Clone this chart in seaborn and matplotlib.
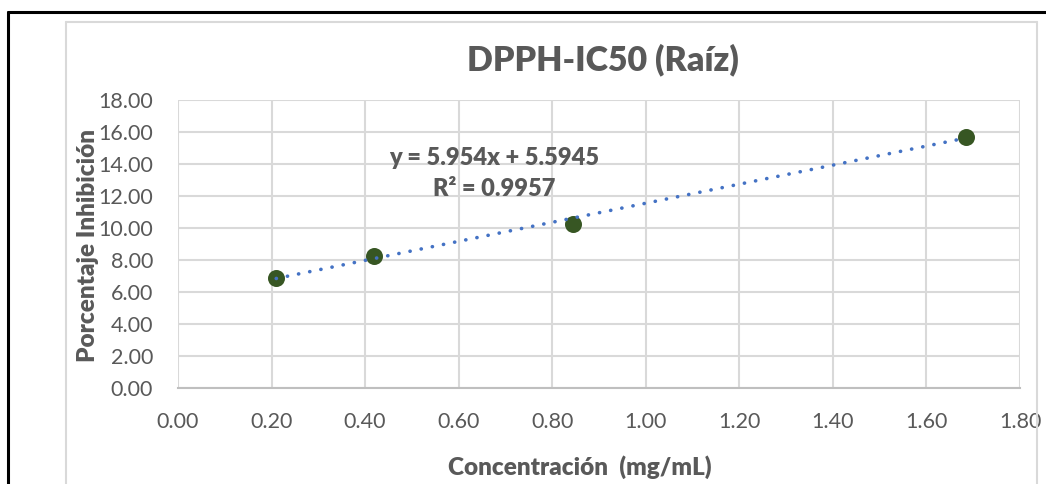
import numpy as np
import pandas as pd
import seaborn as sns
import matplotlib
matplotlib.use("Agg")
import matplotlib.pyplot as plt
from matplotlib.lines import Line2D

# Data
concentracion = [0.21, 0.42, 0.845, 1.685]
inhibicion = [6.87, 8.25, 10.27, 15.68]
slope = 5.954
intercept = 5.5945
r2 = 0.9957
title = "DPPH-IC50 (Raíz)"
xlabel = "Concentración  (mg/mL)"
ylabel = "Porcentaje Inhibición"
xticks = [0.0, 0.2, 0.4, 0.6, 0.8, 1.0, 1.2, 1.4, 1.6, 1.8]
yticks = [0, 2, 4, 6, 8, 10, 12, 14, 16, 18]

sns.set_theme(style="white")
plt.rcParams['font.family'] = ['Lato', 'DejaVu Sans']

W, H = 1046, 484
fig = plt.figure(figsize=(W / 100, H / 100), dpi=100)
ax = fig.add_axes([178 / W, 1 - 388 / H, (1020 - 178) / W, (388 - 100) / H])

df = pd.DataFrame({"x": concentracion, "y": inhibicion})
xt = np.array([concentracion[0], concentracion[-1]])
trend = pd.DataFrame({"x": xt, "y": slope * xt + intercept})

sns.lineplot(data=trend, x="x", y="y", ax=ax, color="#4472C4", lw=2.6,
             linestyle=(0, (0.05, 3.1)), dash_capstyle="round", zorder=4)
sns.scatterplot(data=df, x="x", y="y", ax=ax, color="#375623", s=150,
                edgecolor="#375623", linewidth=0, zorder=3)

ax.set_xlim(0, 1.8)
ax.set_ylim(0, 18)
ax.set_xticks(xticks)
ax.set_xticklabels([f"{v:.2f}" for v in xticks])
ax.set_yticks(yticks)
ax.set_yticklabels([f"{v:.2f}" for v in yticks])
ax.grid(True, color="#D9D9D9", lw=1.5)
ax.set_axisbelow(True)
for s in ["top", "right", "left"]:
    ax.spines[s].set_visible(False)
ax.spines["bottom"].set_color("#BFBFBF")
ax.spines["bottom"].set_linewidth(1.5)
ax.tick_params(axis="both", length=0, labelsize=15.5, labelcolor="#595959")
ax.tick_params(axis="x", pad=17)
ax.tick_params(axis="y", pad=18)
ax.set_xlabel("")
ax.set_ylabel("")

bold = dict(fontweight="heavy", color="#595959")
fig.text(603 / W, 1 - 60 / H, title, ha="center", va="center", fontsize=24.5, **bold)
fig.text(88 / W, 1 - 245 / H, ylabel, ha="center", va="center", rotation=90,
         fontsize=17.5, **bold)
fig.text(580 / W, 1 - 467 / H, xlabel, ha="center", va="center", fontsize=17.5, **bold)

fig.text(494 / W, 1 - 158 / H, f"y = {slope}x + {intercept}", ha="center", va="center",
         fontsize=17, **bold)
fig.text(494 / W, 1 - 189 / H, f"R² = {r2}", ha="center", va="center",
         fontsize=17, **bold)

# inner chart-area border (gray)
fig.add_artist(Line2D([66 / W, 66 / W], [0, 1 - 22 / H], transform=fig.transFigure,
                      color="#D9D9D9", lw=1.5))
fig.add_artist(Line2D([66 / W, 1037 / W], [1 - 22 / H, 1 - 22 / H], transform=fig.transFigure,
                      color="#D9D9D9", lw=1.5))
fig.add_artist(Line2D([1037 / W, 1037 / W], [0, 1 - 22 / H], transform=fig.transFigure,
                      color="#D9D9D9", lw=1.5))
# outer black border
fig.add_artist(Line2D([8 / W, 8 / W], [0, 1 - 12 / H], transform=fig.transFigure,
                      color="black", lw=2.2))
fig.add_artist(Line2D([8 / W, 1], [1 - 12 / H, 1 - 12 / H], transform=fig.transFigure,
                      color="black", lw=2.2))

fig.savefig("out.png", dpi=100)
